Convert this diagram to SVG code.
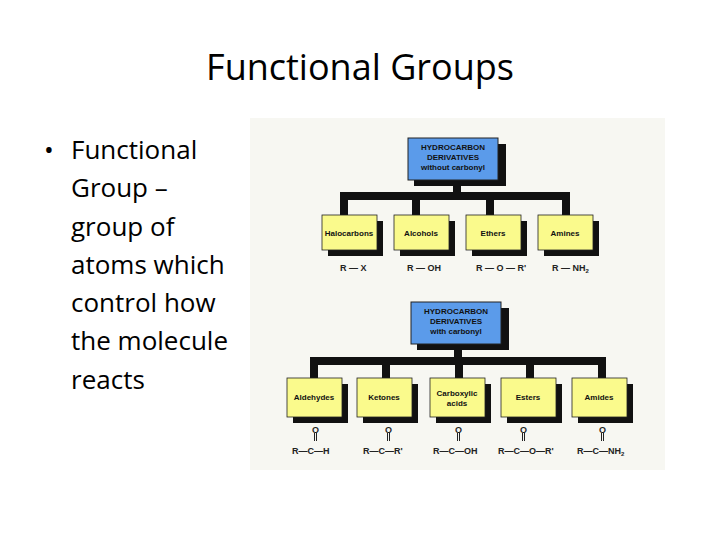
<svg xmlns="http://www.w3.org/2000/svg" width="720" height="540" viewBox="0 0 720 540">
<style>
.t{font-family:"Open Sans","Liberation Sans",sans-serif;fill:#000}
.b{font-family:"Liberation Sans",Arial,sans-serif;font-weight:bold;font-size:8px;text-anchor:middle;fill:#111}
.f{font-family:"Liberation Sans",Arial,sans-serif;font-weight:bold;font-size:9px;fill:#222}
.blue{fill:#5b9bea;stroke:#222;stroke-width:1}
.yel{fill:#fafa8c;stroke:#222;stroke-width:0.8}
.sh{fill:#111}
.bar{fill:#111}
</style>
<rect width="720" height="540" fill="#fff"/>
<text class="t" x="360" y="80" font-size="36" text-anchor="middle">Functional Groups</text>
<g class="t" font-size="26">
<text x="44" y="159">•</text>
<text x="71" y="159">Functional</text>
<text x="71" y="197">Group –</text>
<text x="71" y="236">group of</text>
<text x="71" y="274">atoms which</text>
<text x="71" y="312">control how</text>
<text x="71" y="350">the molecule</text>
<text x="71" y="389">reacts</text>
</g>
<rect x="250" y="118" width="415" height="352" fill="#f7f7f2"/>
<g id="connectors">
<rect class="bar" x="453" y="180" width="8" height="16"/>
<rect class="bar" x="340" y="192" width="230" height="8"/>
<rect class="bar" x="340" y="192" width="8" height="24"/>
<rect class="bar" x="412" y="192" width="8" height="24"/>
<rect class="bar" x="486" y="192" width="8" height="24"/>
<rect class="bar" x="562" y="192" width="8" height="24"/>
<rect class="bar" x="454" y="343" width="8" height="18"/>
<rect class="bar" x="310" y="357" width="296" height="8"/>
<rect class="bar" x="310" y="357" width="8" height="22"/>
<rect class="bar" x="382" y="357" width="8" height="22"/>
<rect class="bar" x="455" y="357" width="8" height="22"/>
<rect class="bar" x="526" y="357" width="8" height="22"/>
<rect class="bar" x="598" y="357" width="8" height="22"/>
</g>
<g id="top">
<rect class="sh" x="414" y="144" width="92" height="42"/>
<rect class="blue" x="408" y="138" width="90" height="42"/>
<text class="b" x="453" y="150">HYDROCARBON</text>
<text class="b" x="453" y="160">DERIVATIVES</text>
<text class="b" x="453" y="170">without carbonyl</text>
</g>
<g id="halocarbons"><rect class="sh" x="328" y="221" width="55" height="35"/><rect class="yel" x="322" y="215" width="55" height="35"/><text class="b" x="349" y="236">Halocarbons</text><text class="f" x="340" y="271">R — X</text></g>
<g id="alcohols"><rect class="sh" x="400" y="221" width="55" height="35"/><rect class="yel" x="394" y="215" width="55" height="35"/><text class="b" x="421" y="236">Alcohols</text><text class="f" x="407" y="271">R — OH</text></g>
<g id="ethers"><rect class="sh" x="472" y="221" width="55" height="35"/><rect class="yel" x="466" y="215" width="55" height="35"/><text class="b" x="493" y="236">Ethers</text><text class="f" x="476" y="271">R — O — R'</text></g>
<g id="amines"><rect class="sh" x="544" y="221" width="55" height="35"/><rect class="yel" x="538" y="215" width="55" height="35"/><text class="b" x="565" y="236">Amines</text><text class="f" x="552" y="271">R — NH<tspan font-size="6" dy="2">2</tspan></text></g>
<g id="top2">
<rect class="sh" x="417" y="308" width="92" height="42"/>
<rect class="blue" x="411" y="302" width="90" height="42"/>
<text class="b" x="456" y="314">HYDROCARBON</text>
<text class="b" x="456" y="324">DERIVATIVES</text>
<text class="b" x="456" y="334">with carbonyl</text>
</g>
<g id="aldehydes"><rect class="sh" x="293" y="384" width="55" height="39"/><rect class="yel" x="287" y="378" width="55" height="39"/><text class="b" x="314" y="400">Aldehydes</text></g>
<g id="ketones"><rect class="sh" x="363" y="384" width="55" height="39"/><rect class="yel" x="357" y="378" width="55" height="39"/><text class="b" x="384" y="400">Ketones</text></g>
<g id="carboxylic"><rect class="sh" x="436" y="384" width="55" height="39"/><rect class="yel" x="430" y="378" width="55" height="39"/><text class="b" x="457" y="396">Carboxylic</text><text class="b" x="457" y="406">acids</text></g>
<g id="esters"><rect class="sh" x="507" y="384" width="55" height="39"/><rect class="yel" x="501" y="378" width="55" height="39"/><text class="b" x="528" y="400">Esters</text></g>
<g id="amides"><rect class="sh" x="578" y="384" width="55" height="39"/><rect class="yel" x="572" y="378" width="55" height="39"/><text class="b" x="599" y="400">Amides</text></g>
<g id="formulas" class="f" font-size="9">
<g stroke="#222" stroke-width="1">
<path d="M314.5 433v8M316.5 433v8M387.5 433v8M389.5 433v8M457.5 433v8M459.5 433v8M522.5 433v8M524.5 433v8M601.5 433v8M603.5 433v8"/>
</g>
<text x="315.5" y="433" text-anchor="middle">O</text>
<text x="388.5" y="433" text-anchor="middle">O</text>
<text x="458.5" y="433" text-anchor="middle">O</text>
<text x="523.5" y="433" text-anchor="middle">O</text>
<text x="602.5" y="433" text-anchor="middle">O</text>
<text x="292" y="454">R—C—H</text>
<text x="363" y="454">R—C—R'</text>
<text x="433" y="454">R—C—OH</text>
<text x="498" y="454">R—C—O—R'</text>
<text x="577" y="454">R—C—NH<tspan font-size="6" dy="2">2</tspan></text>
</g>
</svg>
